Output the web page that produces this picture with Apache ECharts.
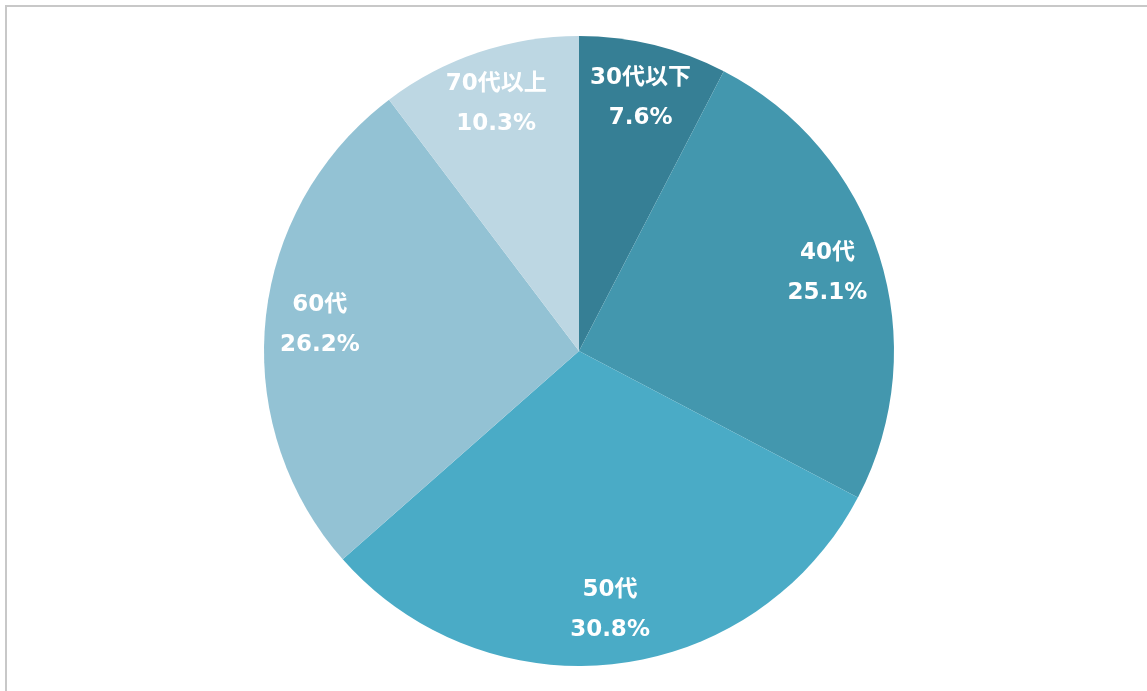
<!DOCTYPE html>
<html>
<head>
<meta charset="utf-8">
<script src="https://cdn.jsdelivr.net/npm/echarts@6/dist/echarts.min.js"></script>
<style>
  html, body { margin: 0; padding: 0; background: #fff; }
  #frame { position: absolute; left: 5px; top: 5px; width: 1160px; height: 700px; border: 2px solid #c8c8c8; box-sizing: border-box; }
  #chart { position: absolute; left: 0; top: 0; width: 1147px; height: 691px; }
</style>
</head>
<body>
<div id="frame"></div>
<div id="chart"></div>
<script>
var categories = ['30代以下', '40代', '50代', '60代', '70代以上'];
var shares = [7.6, 25.1, 30.8, 26.2, 10.3];
var colors = ['#367f95', '#4397ae', '#4aabc6', '#93c2d4', '#bdd7e3'];

var data = categories.map(function (name, i) {
  return { name: name, value: shares[i], itemStyle: { color: colors[i] } };
});

var chart = echarts.init(document.getElementById('chart'));
chart.setOption({
  animation: false,
  series: [
    {
      type: 'pie',
      center: [579, 351],
      radius: [0, 315],
      startAngle: 90,
      clockwise: true,
      silent: true,
      label: { show: false },
      labelLine: { show: false },
      data: data
    },
    {
      // transparent ring, only used to put labels further out
      type: 'pie',
      center: [579, 351],
      radius: [200, 315],
      startAngle: 90,
      clockwise: true,
      silent: true,
      itemStyle: { color: 'rgba(0,0,0,0)' },
      label: {
        show: true,
        position: 'inside',
        color: '#fff',
        fontSize: 23,
        fontWeight: 'bold',
        fontFamily: '"DejaVu Sans", "Noto Sans CJK JP", sans-serif',
        lineHeight: 40,
        formatter: function (p) { return p.name + '\n' + p.value.toFixed(1) + '%'; }
      },
      labelLine: { show: false },
      data: categories.map(function (name, i) { return { name: name, value: shares[i] }; })
    }
  ]
});
</script>
</body>
</html>
